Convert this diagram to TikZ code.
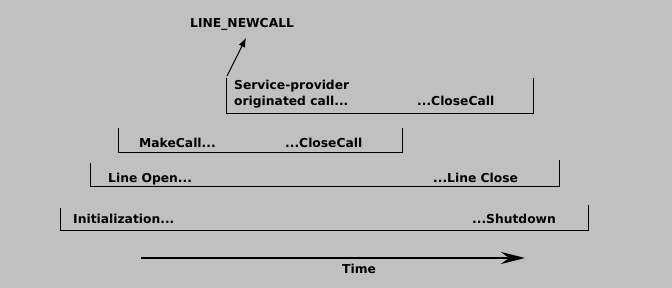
\documentclass[tikz,border=0pt]{standalone}
\usepackage{fontspec}
\setmainfont{DejaVu Sans}
\usetikzlibrary{arrows.meta}
\definecolor{panel}{HTML}{C0C0C0}
\begin{document}
\begin{tikzpicture}[x=1pt,y=-1pt,
  lbl/.style={anchor=base west,inner sep=0pt,font=\fontsize{12.3}{14}\bfseries\selectfont},
  bracket/.style={draw=black,line width=1pt},
  timeline/.style={draw=black,line width=2pt,-{Stealth[length=24pt,width=12pt,inset=8pt]}}]
  % backdrop and bounding box
  \fill[panel] (0,0) rectangle (672,288);
  \useasboundingbox (0,0) rectangle (672,288);

  % nested lifetime brackets
  \draw[bracket] (226,78) -- (226,114) -- (533,114) -- (533,78);
  \draw[bracket] (118,128) -- (118,153) -- (402,153) -- (402,128);
  \draw[bracket] (90,163) -- (90,187) -- (559,187) -- (559,160);
  \draw[bracket] (60,208) -- (60,231) -- (588,231) -- (588,205);

  % labels
  \node[lbl] (newcall) at (190,28) {LINE\_NEWCALL};
  \node[lbl] (sp1) at (234,90) {Service-provider};
  \node[lbl] (sp2) at (234,106) {originated call...};
  \node[lbl] (spclose) at (417,106) {...CloseCall};
  \node[lbl] (make) at (139,148) {MakeCall...};
  \node[lbl] (makeclose) at (285,148) {...CloseCall};
  \node[lbl] (open) at (108,183) {Line Open...};
  \node[lbl] (close) at (433,183) {...Line Close};
  \node[lbl] (init) at (73,224) {Initialization...};
  \node[lbl] (shut) at (472,224) {...Shutdown};
  \node[lbl] (time) at (342,274) {Time};

  % event arrow from the provider-originated call
  \coordinate (spcorner) at (227,76);
  \coordinate (newcalltip) at (246,38);
  \draw[line width=1pt,-{Latex[length=9pt,width=7pt]}] (spcorner) -- (newcalltip);

  % time axis
  \coordinate (t0) at (141,258);
  \coordinate (t1) at (525,258);
  \draw[timeline] (t0) -- (t1);
\end{tikzpicture}
\end{document}
